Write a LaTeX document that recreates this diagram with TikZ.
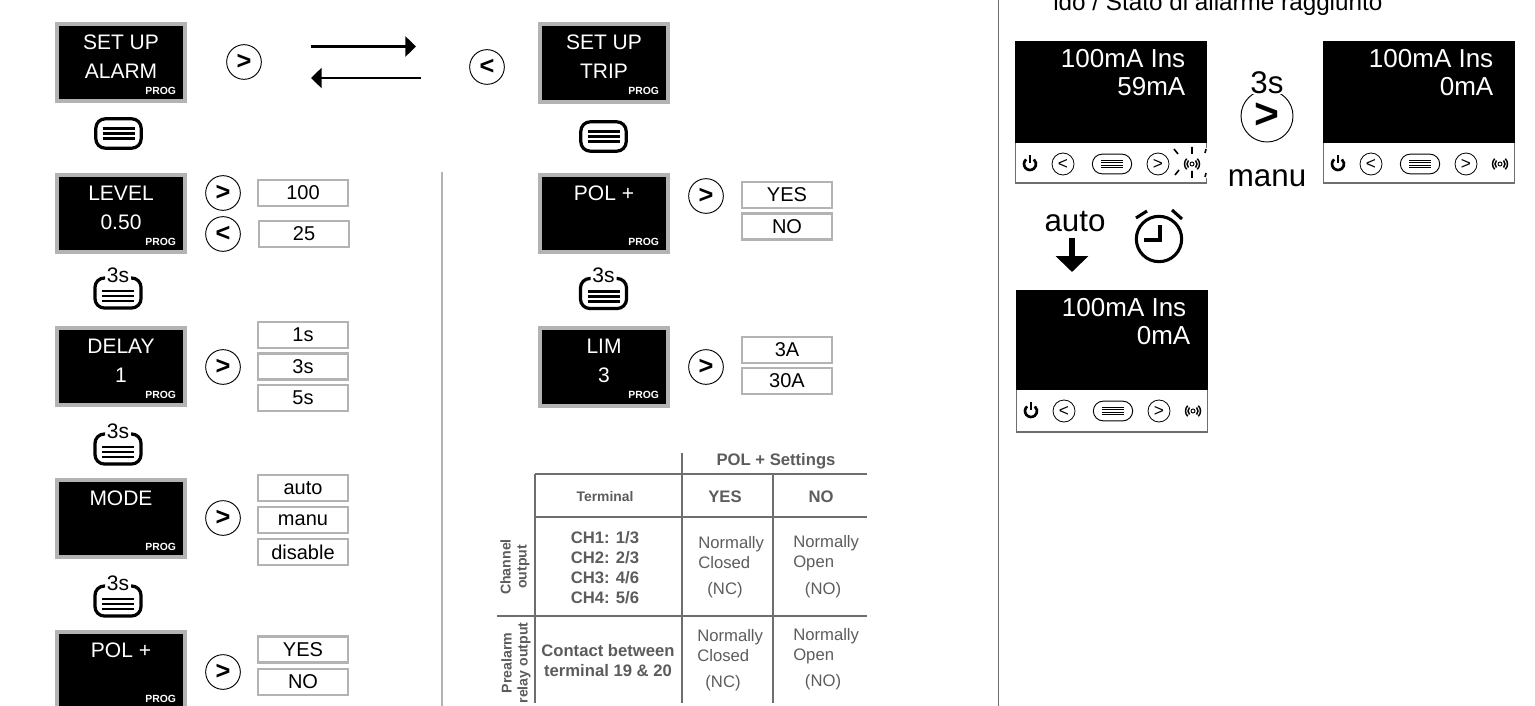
\documentclass[tikz,border=0pt]{standalone}
\usepackage{fontspec}
\setmainfont{Liberation Sans}
\setsansfont{Liberation Sans}
\usetikzlibrary{
  arrows.meta,
  positioning
}
\definecolor{framegray}{HTML}{B3B3B3}
\definecolor{rulegray}{HTML}{6E6E6E}
\definecolor{tabletext}{HTML}{5C5C5C}

\tikzset{
  menuicon/.pic={
    \draw[line width=1.6pt] (-16,-5) -- (16,-5) (-16,0) -- (16,0) (-16,5) -- (16,5);
  },
  menukey/.pic={
    \node[menuframe] (-frame) at (0,0) {};
    \pic (-lines) at (0,0) {menuicon};
  },
  holdkey/.pic={
    \draw[line width=2.4pt, rounded corners=7pt] (-13,-15) -- (-23,-15) -- (-23,15) -- (23,15) -- (23,-15) -- (13,-15);
    \pic (-lines) at (0,3) {menuicon};
    \node[font=\fontsize{15.75}{16}\selectfont, inner sep=0pt] (-time) at (0,-18) {3s};
  },
  rowkeys/.pic={
    % power symbol
    \draw[line width=2pt] (0,0) ++(230:6) arc[start angle=230, end angle=-50, radius=6];
    \draw[line width=1.6pt] (0,-9) -- (0,-1);
    \node[rowbtn] (-left) at (33,0) {<};
    \node[rowframe] (-menu) at (82,0) {};
    \draw[line width=.6pt] (71,-4) -- (93,-4) (71,-1.5) -- (93,-1.5) (71,1) -- (93,1) (71,3.5) -- (93,3.5);
    \node[rowbtn] (-right) at (128,0) {>};
    % alarm signal
    \node[draw, circle, line width=.7pt, minimum size=3pt, inner sep=0pt] (-sig) at (162,0) {};
    \draw[line width=1.1pt] (162,0) ++(225:5) arc[start angle=225, end angle=135, radius=5];
    \draw[line width=1.1pt] (162,0) ++(-45:5) arc[start angle=-45, end angle=45, radius=5];
    \draw[line width=1.1pt] (162,0) ++(225:7.5) arc[start angle=225, end angle=135, radius=7.5];
    \draw[line width=1.1pt] (162,0) ++(-45:7.5) arc[start angle=-45, end angle=45, radius=7.5];
  }
}

\begin{document}
\begin{tikzpicture}[
    x=0.75pt, y=-0.75pt,
    every node/.style={font=\fontsize{15}{18}\selectfont},
    screen/.style={rectangle, draw=framegray, fill=black, line width=3pt,
                   minimum width=96pt, minimum height=58pt, inner sep=0pt},
    screentext/.style={white, align=center, yshift=4.5pt,
                       font=\fontsize{15.75}{21.75}\selectfont},
    prog/.style={white, inner sep=0pt, font=\bfseries\fontsize{7.8}{8}\selectfont},
    valuebox/.style={rectangle, draw=framegray, fill=white, line width=2.2pt,
                     minimum width=67.5pt, minimum height=19.5pt, inner sep=0pt,
                     font=\fontsize{15}{16}\selectfont},
    btn/.style={circle, draw, line width=.7pt, minimum size=26pt, inner sep=0pt,
                font=\bfseries\fontsize{19}{19}\selectfont},
    rowbtn/.style={circle, draw, line width=.6pt, minimum size=16.5pt, inner sep=0pt,
                font=\fontsize{13}{13}\selectfont},
    menuframe/.style={rectangle, draw, line width=2.4pt, rounded corners=7pt,
                      minimum width=34pt, minimum height=22pt},
    rowframe/.style={rectangle, draw, line width=.7pt, rounded corners=7.4pt,
                     minimum width=29.5pt, minimum height=14.8pt},
    panel/.style={rectangle, draw=rulegray, fill=white, line width=.9pt, anchor=north west,
                  minimum width=143pt, minimum height=106pt},
    panelblack/.style={rectangle, fill=black, anchor=north, inner sep=0pt,
                       minimum width=143.5pt, minimum height=76pt},
    paneltext/.style={white, align=right, inner sep=0pt,
                      font=\fontsize{19.5}{21}\selectfont},
    bigword/.style={inner sep=0pt, font=\fontsize{23.5}{24}\selectfont},
    cell/.style={tabletext, align=left, inner sep=0pt, anchor=west,
                 font=\fontsize{12.5}{15}\selectfont},
    cellnote/.style={tabletext, inner sep=0pt, font=\fontsize{12.5}{15}\selectfont},
    cellhead/.style={tabletext, align=center, inner sep=0pt,
                     font=\bfseries\fontsize{12.5}{15}\selectfont},
    sidehead/.style={tabletext, align=center, inner sep=0pt, rotate=90,
                     font=\bfseries\fontsize{10.6}{12}\selectfont},
    gridline/.style={rulegray, line width=.9pt},
    flow/.style={line width=2pt, -{Triangle[length=8pt, width=15pt]}},
]
\clip (0,0) rectangle (1535,706);

% page dividers
\draw[framegray, line width=2.2pt] (442,172) -- (442,706);
\draw[rulegray, line width=1pt] (998.5,0) -- (998.5,706);

% left column
\node[screen] (alarmscr) at (121,62.5) {};
\node[screentext] (alarmtxt) at (alarmscr.center) {SET UP\\ALARM};
\node[prog, above left=6.5pt and 8pt of alarmscr.south east] (alarmprog) {PROG};
\node[btn] (alarmbtn) at (244,62) {>};

\pic (alarmmenu) at (118.5,133.5) {menukey};

\node[screen] (levelscr) at (121,213.5) {};
\node[screentext] (leveltxt) at (levelscr.center) {LEVEL\\0.50};
\node[prog, above left=6.5pt and 8pt of levelscr.south east] (levelprog) {PROG};
\node[btn] (levelup) at (223,193) {>};
\node[btn] (leveldn) at (223,234) {<};
\node[valuebox] (val100) at (303,193) {100};
\node[valuebox] (val25) at (304,234) {25};

\pic (hold1) at (118,293) {holdkey};

\node[screen] (delayscr) at (121,366.5) {};
\node[screentext] (delaytxt) at (delayscr.center) {DELAY\\1};
\node[prog, above left=6.5pt and 8pt of delayscr.south east] (delayprog) {PROG};
\node[btn] (delaybtn) at (223,367) {>};
\node[valuebox] (val1s) at (303,335) {1s};
\node[valuebox] (val3s) at (303,366.5) {3s};
\node[valuebox] (val5s) at (303,398) {5s};

\pic (hold2) at (118,449) {holdkey};

\node[screen] (modescr) at (121,518.5) {};
\node[screentext] (modetxt) at (modescr.center) {MODE\\~};
\node[prog, above left=6.5pt and 8pt of modescr.south east] (modeprog) {PROG};
\node[btn] (modebtn) at (223,518) {>};
\node[valuebox] (valauto) at (303,488) {auto};
\node[valuebox] (valmanu) at (303,520) {manu};
\node[valuebox] (valdis) at (303,552) {disable};

\pic (hold3) at (118,601) {holdkey};

\node[screen] (polscr) at (121,670.5) {};
\node[screentext] (poltxt) at (polscr.center) {POL +\\~};
\node[prog, above left=6.5pt and 8pt of polscr.south east] (polprog) {PROG};
\node[btn] (polbtn) at (223,672) {>};
\node[valuebox] (valyes) at (303,649.5) {YES};
\node[valuebox] (valno) at (303,682) {NO};

% exchange arrows
\coordinate (goA) at (311,46.5);
\coordinate (goB) at (416,46.5);
\coordinate (backA) at (421,78);
\coordinate (backB) at (311,78);
\draw[flow] (goA) -- (goB);
\draw[flow] (backA) -- (backB);

% right column
\node[btn] (tripbtn) at (487,67) {<};
\node[screen] (tripscr) at (604,63) {};
\node[screentext] (triptxt) at (tripscr.center) {SET UP\\TRIP};
\node[prog, above left=6.5pt and 8pt of tripscr.south east] (tripprog) {PROG};

\pic (tripmenu) at (603.5,136.5) {menukey};

\node[screen] (pol2scr) at (604,213.5) {};
\node[screentext] (pol2txt) at (pol2scr.center) {POL +\\~};
\node[prog, above left=6.5pt and 8pt of pol2scr.south east] (pol2prog) {PROG};
\node[btn] (pol2btn) at (706,196) {>};
\node[valuebox] (val2yes) at (787,195) {YES};
\node[valuebox] (val2no) at (787,226.5) {NO};

\pic (hold4) at (603.5,293.5) {holdkey};

\node[screen] (limscr) at (604,367) {};
\node[screentext] (limtxt) at (limscr.center) {LIM\\3};
\node[prog, above left=6.5pt and 8pt of limscr.south east] (limprog) {PROG};
\node[btn] (limbtn) at (706,367) {>};
\node[valuebox] (val3a) at (787,350) {3A};
\node[valuebox] (val30a) at (787,381) {30A};

% settings table
\draw[gridline] (682,453) -- (682,703);
\draw[gridline] (773,474) -- (773,703);
\draw[gridline] (535,474) -- (535,703);
\draw[gridline] (535,474) -- (867,474);
\draw[gridline] (535,517) -- (867,517);
\draw[gridline] (497,616) -- (867,616);

\node[cellhead] (polhead) at (776,461) {POL + Settings};
\node[cellhead, font=\bfseries\fontsize{10.4}{12}\selectfont] (termhead) at (605,497) {Terminal};
\node[cellhead] (yeshead) at (725,497) {YES};
\node[cellhead] (nohead) at (821,497) {NO};
\node[cellhead] (chlist) at (605,568) {CH1: 1/3\\CH2: 2/3\\CH3: 4/6\\CH4: 5/6};
\node[cellhead] (contact) at (608,661) {Contact between\\terminal 19 \& 20};
\node[sidehead] (chside) at (515,567) {Channel\\output};
\node[sidehead] (preside) at (516,663) {Prealarm\\relay output};

\node[cell] (nc1) at (698,553) {Normally\\Closed};
\node[cellnote] (nc1note) at (725,590) {(NC)};
\node[cell] (no1) at (793,553) {Normally\\Open};
\node[cellnote] (no1note) at (823,590) {(NO)};
\node[cell] (nc2) at (697,646) {Normally\\Closed};
\node[cellnote] (nc2note) at (723,683) {(NC)};
\node[cell] (no2) at (793,646) {Normally\\Open};
\node[cellnote] (no2note) at (823,682) {(NO)};

% alarm panels
\node[inner sep=0pt, anchor=west, font=\fontsize{18.2}{20}\selectfont] (oldtitle) at (1053,4) {ldo / Stato di allarme raggiunto};

\node[panel] (panelA) at (1015,41) {};
\node[panelblack] (panelAblack) at (panelA.north) {};
\node[paneltext, below left=6pt and 16pt of panelA.north east] (panelAtxt) {100mA Ins\\59mA};
\pic (rowA) at (1030,164) {rowkeys};
\draw[white, line width=1.2pt] (panelA.east |- 0,148) -- (panelA.east |- 0,178);
\draw[line width=1.2pt] (1192,147) -- (1192,154) (1192,171) -- (1192,178)
  (1174,149) -- (1178,154) (1175,175) -- (1179,170)
  (1206,149) -- (1205,153) (1206,173) -- (1205,177);

\node[panel] (panelB) at (1323,41) {};
\node[panelblack] (panelBblack) at (panelB.north) {};
\node[paneltext, below left=6pt and 16pt of panelB.north east] (panelBtxt) {100mA Ins\\0mA};
\pic (rowB) at (1338,164) {rowkeys};

\node[panel] (panelC) at (1016,290) {};
\node[panelblack, minimum height=75pt] (panelCblack) at (panelC.north) {};
\node[paneltext, below left=6pt and 13pt of panelC.north east] (panelCtxt) {100mA Ins\hspace*{3pt}\\0mA};
\pic (rowC) at (1031,411) {rowkeys};

\node[btn, minimum size=39pt, font=\bfseries\fontsize{32}{32}\selectfont] (manubtn) at (1267,116) {>};
\node[bigword, fill=white] (hold3s) at (1267,83) {3s};
\node[bigword] (manuword) at (1267,178) {manu};
\node[bigword] (autoword) at (1075,222) {auto};

\coordinate (autoA) at (1072,238);
\coordinate (autoB) at (1072,272);
\draw[line width=4.5pt, -{Triangle[length=12pt, width=24pt]}] (autoA) -- (autoB);

% clock
\node[draw, circle, line width=2.3pt, minimum size=34pt, inner sep=0pt] (clockface) at (1159,239) {};
\draw[line width=2.3pt] (1160,225) -- (1160,240) -- (1144,240);
\draw[line width=2.3pt] (1136,218) -- (1147,211);
\draw[line width=2.3pt] (1172,210) -- (1182,219);

\end{tikzpicture}
\end{document}
